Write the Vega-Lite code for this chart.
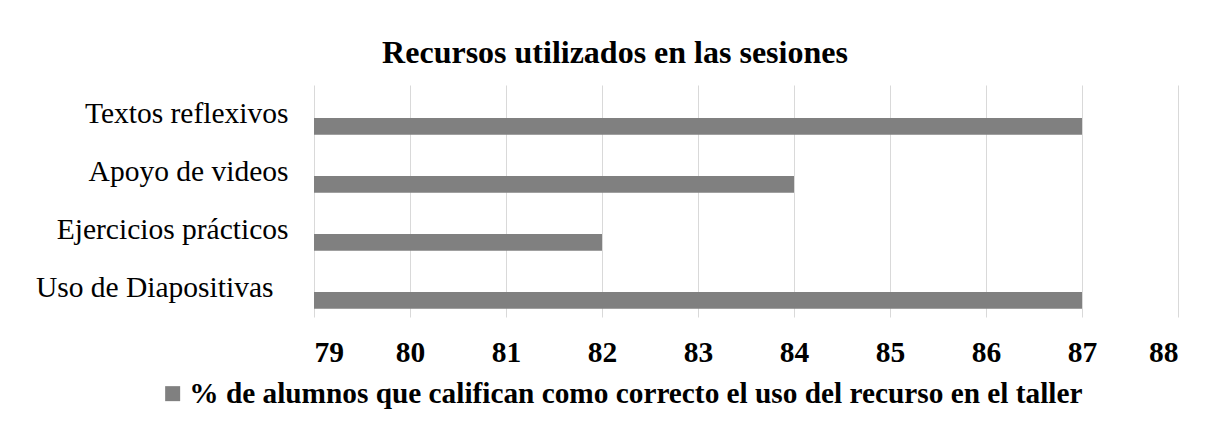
{
  "$schema": "https://vega.github.io/schema/vega-lite/v6.json",
  "width": 864,
  "height": 232,
  "autosize": {"type": "none"},
  "padding": {"left": 314, "top": 85, "right": 31, "bottom": 121},
  "background": "white",
  "title": {
    "text": "Recursos utilizados en las sesiones",
    "font": "Liberation Serif",
    "fontSize": 32,
    "fontWeight": "bold",
    "color": "black",
    "anchor": "middle",
    "frame": "group",
    "dx": -131,
    "offset": 15
  },
  "data": {
    "values": [
      {"recurso": "Textos reflexivos", "serie": "% de alumnos que califican como correcto el uso del recurso en el taller", "valor": 87},
      {"recurso": "Apoyo de videos", "serie": "% de alumnos que califican como correcto el uso del recurso en el taller", "valor": 84},
      {"recurso": "Ejercicios prácticos", "serie": "% de alumnos que califican como correcto el uso del recurso en el taller", "valor": 82},
      {"recurso": "Uso de Diapositivas", "serie": "% de alumnos que califican como correcto el uso del recurso en el taller", "valor": 87}
    ]
  },
  "mark": {"type": "bar", "color": "#808080"},
  "encoding": {
    "y": {
      "field": "recurso",
      "type": "nominal",
      "sort": null,
      "scale": {"paddingInner": 0, "paddingOuter": 0},
      "axis": {
        "title": null,
        "ticks": false,
        "domain": false,
        "labelFont": "Liberation Serif",
        "labelFontSize": 29.5,
        "labelColor": "black",
        "labelPadding": {"condition": {"test": "datum.value === 'Uso de Diapositivas'", "value": 41}, "value": 26},
        "labelLimit": 0
      }
    },
    "yOffset": {
      "field": "serie",
      "type": "nominal",
      "scale": {
        "domain": ["serie oculta", "% de alumnos que califican como correcto el uso del recurso en el taller"],
        "paddingInner": 0.32,
        "paddingOuter": 0.33
      }
    },
    "x": {
      "field": "valor",
      "type": "quantitative",
      "stack": null,
      "scale": {"domain": [79, 88], "nice": false, "zero": false},
      "axis": {
        "title": null,
        "values": [79, 80, 81, 82, 83, 84, 85, 86, 87, 88],
        "format": "d",
        "grid": true,
        "gridColor": "#d9d9d9",
        "gridWidth": 1,
        "domain": false,
        "ticks": false,
        "labelFont": "Liberation Serif",
        "labelFontSize": 29.5,
        "labelFontWeight": "bold",
        "labelColor": "black",
        "labelPadding": 21
      }
    },
    "x2": {"datum": 79},
    "color": {
      "field": "serie",
      "type": "nominal",
      "scale": {"range": ["#808080"]},
      "legend": {
        "title": null,
        "orient": "none",
        "legendX": -156,
        "legendY": 294,
        "symbolType": "square",
        "symbolSize": 225,
        "symbolStrokeWidth": 0,
        "symbolOpacity": 1,
        "labelFont": "Liberation Serif",
        "labelFontSize": 29.3,
        "labelFontWeight": "bold",
        "labelColor": "black",
        "labelOffset": 2,
        "labelLimit": 0,
        "padding": 0
      }
    }
  },
  "config": {"view": {"stroke": null}}
}
